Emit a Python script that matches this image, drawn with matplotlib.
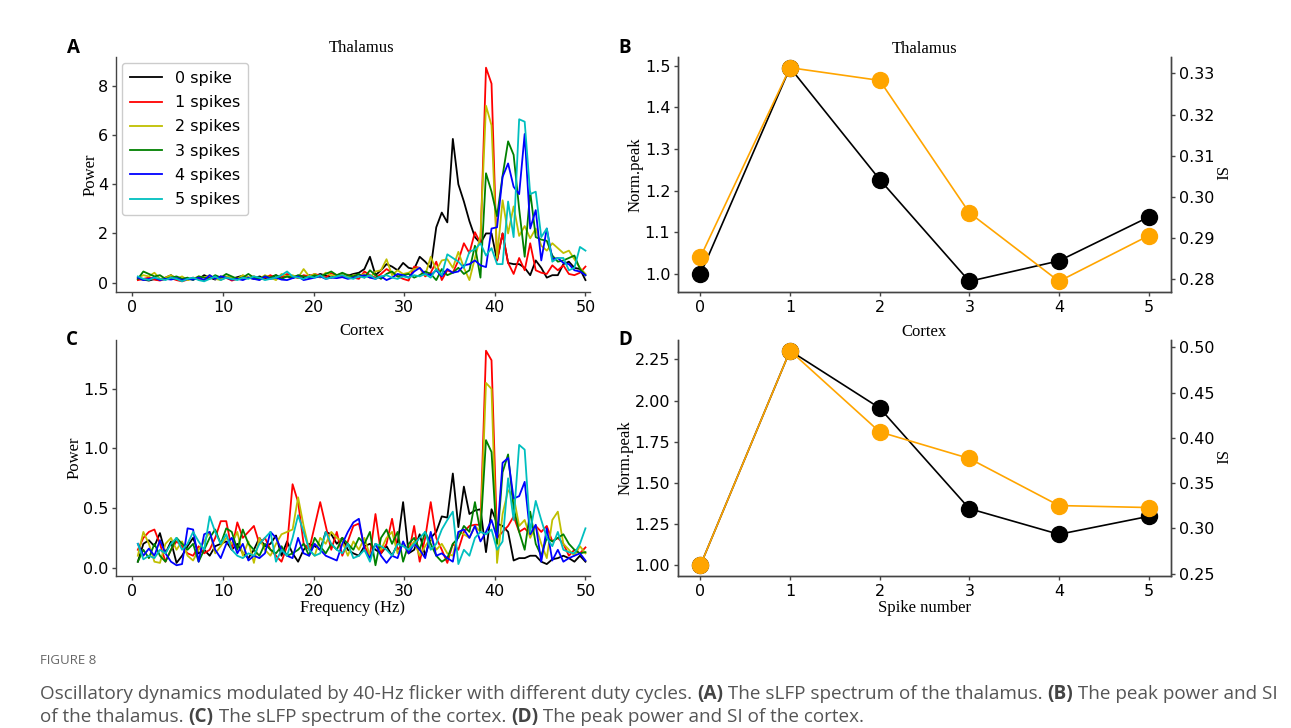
import numpy as np
import matplotlib
matplotlib.use("Agg")
import matplotlib.pyplot as plt

# ---- data ---------------------------------------------------------------
# spectrum frequency grid: 82 bins from ~0.61 Hz to 50 Hz
FREQ = np.arange(1, 83) * (50 / 82)

SPIKE_LABELS = ["0 spike", "1 spikes", "2 spikes", "3 spikes", "4 spikes", "5 spikes"]
SPIKE_COLORS = ["k", "r", "y", "g", "b", "c"]

# thalamus sLFP power per spike condition
TH_0 = [0.15, 0.12, 0.08, 0.14, 0.10, 0.20, 0.30, 0.15, 0.10, 0.12,
        0.18, 0.14, 0.30, 0.20, 0.12, 0.25, 0.18, 0.15, 0.22, 0.28,
        0.20, 0.15, 0.25, 0.18, 0.22, 0.30, 0.20, 0.25, 0.18, 0.28,
        0.22, 0.30, 0.25, 0.35, 0.28, 0.20, 0.30, 0.35, 0.28, 0.35,
        0.40, 0.55, 1.05, 0.30, 0.50, 0.75, 0.65, 0.50, 0.80, 0.60,
        0.55, 1.05, 0.85, 0.60, 2.25, 2.85, 2.45, 5.85, 4.00, 3.30,
        2.50, 1.85, 1.60, 2.00, 2.00, 0.90, 2.00, 0.80, 0.75, 0.75,
        0.60, 0.30, 0.90, 0.60, 0.20, 0.30, 0.30, 0.75, 0.85, 0.60,
        0.55, 0.10]
TH_1 = [0.10, 0.15, 0.20, 0.12, 0.08, 0.15, 0.18, 0.10, 0.05, 0.12,
        0.20, 0.15, 0.10, 0.18, 0.25, 0.12, 0.20, 0.08, 0.15, 0.22,
        0.18, 0.25, 0.12, 0.20, 0.30, 0.15, 0.22, 0.35, 0.25, 0.18,
        0.30, 0.25, 0.35, 0.28, 0.20, 0.38, 0.30, 0.25, 0.32, 0.20,
        0.15, 0.45, 0.30, 0.20, 0.35, 0.55, 0.40, 0.25, 0.15, 0.08,
        0.65, 0.60, 0.25, 0.40, 0.85, 0.10, 0.50, 0.40, 0.90, 1.60,
        1.20, 2.05, 1.60, 8.75, 8.10, 0.90, 2.00, 0.80, 0.35, 1.00,
        0.50, 1.60, 0.50, 0.40, 0.35, 0.70, 0.50, 0.70, 0.35, 0.30,
        0.40, 0.65]
TH_2 = [0.20, 0.30, 0.25, 0.40, 0.15, 0.20, 0.30, 0.15, 0.25, 0.10,
        0.15, 0.25, 0.20, 0.30, 0.15, 0.10, 0.25, 0.20, 0.15, 0.30,
        0.20, 0.25, 0.15, 0.30, 0.20, 0.10, 0.35, 0.25, 0.30, 0.20,
        0.55, 0.25, 0.35, 0.20, 0.40, 0.30, 0.25, 0.35, 0.20, 0.30,
        0.25, 0.35, 0.20, 0.45, 0.50, 0.95, 0.30, 0.50, 0.35, 0.40,
        0.55, 0.60, 0.30, 1.05, 0.50, 0.90, 0.95, 0.60, 1.25, 0.60,
        0.10, 1.00, 1.90, 7.20, 6.40, 1.00, 3.35, 2.00, 3.10, 1.90,
        2.30, 1.80, 2.20, 1.50, 1.30, 1.60, 1.40, 1.20, 1.30, 0.95,
        0.60, 0.35]
TH_3 = [0.15, 0.45, 0.35, 0.25, 0.30, 0.15, 0.20, 0.25, 0.15, 0.20,
        0.10, 0.25, 0.20, 0.15, 0.30, 0.20, 0.35, 0.25, 0.15, 0.20,
        0.35, 0.20, 0.15, 0.25, 0.20, 0.30, 0.15, 0.25, 0.20, 0.30,
        0.25, 0.20, 0.30, 0.25, 0.35, 0.45, 0.30, 0.40, 0.30, 0.25,
        0.35, 0.20, 0.50, 0.30, 0.15, 0.35, 0.45, 0.25, 0.30, 0.35,
        0.20, 0.30, 0.45, 0.35, 0.10, 0.55, 0.30, 0.40, 0.60, 0.35,
        0.50, 1.50, 0.20, 4.45, 3.70, 2.70, 4.35, 5.75, 5.20, 3.00,
        1.05, 3.70, 1.85, 1.75, 1.70, 1.10, 0.85, 0.90, 1.00, 1.10,
        0.55, 0.30]
TH_4 = [0.20, 0.10, 0.15, 0.20, 0.10, 0.15, 0.12, 0.18, 0.10, 0.15,
        0.12, 0.20, 0.10, 0.30, 0.15, 0.25, 0.20, 0.12, 0.15, 0.10,
        0.20, 0.15, 0.10, 0.25, 0.15, 0.20, 0.12, 0.10, 0.18, 0.25,
        0.10, 0.15, 0.20, 0.25, 0.15, 0.20, 0.18, 0.22, 0.15, 0.20,
        0.25, 0.30, 0.20, 0.15, 0.25, 0.10, 0.20, 0.35, 0.30, 0.20,
        0.45, 0.60, 0.35, 0.30, 0.50, 0.25, 0.55, 0.40, 0.45, 0.70,
        0.75, 0.90, 0.70, 0.63, 2.20, 2.25, 4.30, 4.85, 3.90, 3.60,
        6.05, 2.20, 2.95, 0.90, 2.20, 0.95, 1.00, 0.80, 0.75, 0.50,
        0.45, 0.30]
TH_5 = [0.25, 0.15, 0.10, 0.20, 0.15, 0.10, 0.20, 0.15, 0.05, 0.15,
        0.20, 0.10, 0.05, 0.15, 0.25, 0.10, 0.20, 0.15, 0.10, 0.20,
        0.15, 0.25, 0.20, 0.10, 0.15, 0.20, 0.30, 0.45, 0.25, 0.20,
        0.15, 0.25, 0.20, 0.30, 0.15, 0.20, 0.25, 0.30, 0.20, 0.15,
        0.25, 0.20, 0.30, 0.15, 0.25, 0.30, 0.20, 0.15, 0.25, 0.20,
        0.30, 0.25, 0.35, 0.20, 0.55, 0.30, 1.15, 1.00, 0.85, 0.60,
        1.25, 1.35, 1.60, 1.10, 1.40, 0.75, 0.75, 3.30, 1.85, 6.65,
        6.55, 3.60, 3.70, 1.85, 2.20, 0.85, 1.00, 1.00, 0.50, 0.60,
        1.45, 1.30]

# cortex sLFP power per spike condition
CX_0 = [0.05, 0.20, 0.23, 0.18, 0.29, 0.12, 0.22, 0.04, 0.10, 0.18,
        0.25, 0.12, 0.15, 0.10, 0.18, 0.20, 0.22, 0.15, 0.20, 0.12,
        0.08, 0.15, 0.25, 0.18, 0.20, 0.27, 0.10, 0.22, 0.12, 0.05,
        0.15, 0.20, 0.18, 0.15, 0.30, 0.28, 0.20, 0.25, 0.15, 0.12,
        0.10, 0.18, 0.20, 0.15, 0.12, 0.18, 0.10, 0.20, 0.55, 0.12,
        0.15, 0.28, 0.10, 0.25, 0.30, 0.43, 0.42, 0.79, 0.34, 0.68,
        0.45, 0.48, 0.49, 0.13, 0.49, 0.37, 0.35, 0.30, 0.06, 0.08,
        0.08, 0.10, 0.10, 0.05, 0.03, 0.07, 0.08, 0.10, 0.08, 0.05,
        0.10, 0.05]
CX_1 = [0.15, 0.25, 0.30, 0.32, 0.20, 0.05, 0.15, 0.22, 0.18, 0.12,
        0.10, 0.18, 0.12, 0.15, 0.25, 0.39, 0.39, 0.15, 0.38, 0.25,
        0.30, 0.35, 0.20, 0.25, 0.15, 0.10, 0.05, 0.18, 0.70, 0.55,
        0.20, 0.15, 0.35, 0.55, 0.35, 0.15, 0.30, 0.10, 0.22, 0.35,
        0.37, 0.18, 0.10, 0.45, 0.12, 0.20, 0.41, 0.15, 0.20, 0.12,
        0.35, 0.05, 0.25, 0.55, 0.25, 0.15, 0.04, 0.20, 0.15, 0.30,
        0.35, 0.36, 0.36, 1.82, 1.74, 0.25, 0.30, 0.35, 0.43, 0.30,
        0.33, 0.28, 0.35, 0.30, 0.35, 0.22, 0.25, 0.20, 0.10, 0.15,
        0.12, 0.17]
CX_2 = [0.10, 0.30, 0.20, 0.05, 0.04, 0.20, 0.25, 0.15, 0.22, 0.10,
        0.06, 0.15, 0.22, 0.30, 0.12, 0.18, 0.25, 0.20, 0.30, 0.10,
        0.22, 0.04, 0.25, 0.15, 0.10, 0.20, 0.28, 0.30, 0.32, 0.59,
        0.35, 0.15, 0.10, 0.25, 0.20, 0.30, 0.25, 0.22, 0.10, 0.22,
        0.15, 0.25, 0.10, 0.20, 0.15, 0.25, 0.30, 0.12, 0.20, 0.15,
        0.22, 0.10, 0.18, 0.25, 0.15, 0.20, 0.12, 0.10, 0.30, 0.28,
        0.25, 0.35, 0.30, 1.55, 1.50, 0.04, 0.45, 0.65, 0.60, 0.35,
        0.40, 0.25, 0.35, 0.20, 0.08, 0.40, 0.47, 0.20, 0.15, 0.10,
        0.18, 0.12]
CX_3 = [0.05, 0.15, 0.08, 0.20, 0.10, 0.05, 0.15, 0.25, 0.20, 0.15,
        0.20, 0.05, 0.15, 0.25, 0.32, 0.20, 0.33, 0.30, 0.15, 0.32,
        0.20, 0.15, 0.10, 0.20, 0.15, 0.12, 0.18, 0.10, 0.12, 0.15,
        0.20, 0.10, 0.25, 0.18, 0.12, 0.20, 0.15, 0.25, 0.20, 0.15,
        0.25, 0.20, 0.30, 0.02, 0.25, 0.32, 0.20, 0.30, 0.05, 0.20,
        0.25, 0.15, 0.30, 0.20, 0.10, 0.05, 0.08, 0.20, 0.25, 0.35,
        0.30, 0.55, 0.30, 1.07, 0.97, 0.20, 0.80, 0.95, 0.50, 0.30,
        0.15, 0.47, 0.20, 0.10, 0.25, 0.22, 0.25, 0.28, 0.20, 0.15,
        0.12, 0.13]
CX_4 = [0.20, 0.10, 0.16, 0.10, 0.23, 0.12, 0.05, 0.02, 0.03, 0.33,
        0.32, 0.05, 0.28, 0.30, 0.15, 0.08, 0.20, 0.25, 0.12, 0.20,
        0.06, 0.10, 0.08, 0.12, 0.30, 0.25, 0.15, 0.10, 0.08, 0.25,
        0.12, 0.10, 0.20, 0.15, 0.10, 0.08, 0.06, 0.20, 0.30, 0.38,
        0.41, 0.15, 0.08, 0.20, 0.10, 0.04, 0.10, 0.08, 0.22, 0.12,
        0.20, 0.15, 0.08, 0.30, 0.10, 0.12, 0.08, 0.05, 0.30, 0.32,
        0.25, 0.35, 0.22, 0.30, 0.40, 0.25, 0.88, 0.92, 0.58, 0.60,
        0.72, 0.28, 0.36, 0.05, 0.33, 0.06, 0.15, 0.05, 0.08, 0.10,
        0.12, 0.06]
CX_5 = [0.20, 0.07, 0.10, 0.08, 0.15, 0.12, 0.20, 0.25, 0.15, 0.20,
        0.30, 0.22, 0.15, 0.43, 0.30, 0.20, 0.28, 0.15, 0.10, 0.08,
        0.12, 0.10, 0.20, 0.25, 0.30, 0.05, 0.15, 0.10, 0.25, 0.44,
        0.30, 0.15, 0.10, 0.12, 0.30, 0.20, 0.15, 0.12, 0.20, 0.08,
        0.10, 0.15, 0.05, 0.20, 0.18, 0.15, 0.10, 0.20, 0.18, 0.15,
        0.20, 0.25, 0.30, 0.15, 0.20, 0.32, 0.40, 0.47, 0.03, 0.15,
        0.10, 0.25, 0.30, 0.28, 0.32, 0.15, 0.22, 0.75, 0.40, 1.03,
        0.99, 0.30, 0.56, 0.40, 0.25, 0.18, 0.30, 0.15, 0.13, 0.12,
        0.20, 0.33]

# peak power (normalised) and SI against spike number
SPIKE_NUM = [0, 1, 2, 3, 4, 5]
TH_PEAK = [1.000, 1.495, 1.227, 0.983, 1.032, 1.137]
TH_SI = [0.2853, 0.3314, 0.3283, 0.2961, 0.2794, 0.2905]
CX_PEAK = [1.000, 2.303, 1.955, 1.344, 1.188, 1.297]
CX_SI = [0.2592, 0.4963, 0.4066, 0.3772, 0.3252, 0.3230]

CAPTION_1 = [("Oscillatory dynamics modulated by 40-Hz flicker with different duty cycles. ", False),
             ("(A)", True), (" The sLFP spectrum of the thalamus. ", False),
             ("(B)", True), (" The peak power and SI", False)]
CAPTION_2 = [("of the thalamus. ", False), ("(C)", True),
             (" The sLFP spectrum of the cortex. ", False), ("(D)", True),
             (" The peak power and SI of the cortex.", False)]

# ---- style --------------------------------------------------------------
W, H = 1291, 728
SERIF = "Liberation Serif"
SPINE = "#444444"
TICK_FS = 11.5
LABEL_FS = 12
plt.rcParams["font.family"] = "DejaVu Sans"


def px_rect(left, top, right, bottom):
    return [left / W, 1 - bottom / H, (right - left) / W, (bottom - top) / H]


def style_axes(ax, right=False):
    ax.spines["top"].set_visible(False)
    if not right:
        ax.spines["right"].set_visible(False)
    for s in ax.spines.values():
        s.set_color(SPINE)
        s.set_linewidth(1.0)
    ax.tick_params(labelsize=TICK_FS, color=SPINE, length=3, width=1.0, pad=2.5)


def spectrum_panel(ax, series, title, legend=False, xlabel=None):
    for vals, col, lab in zip(series, SPIKE_COLORS, SPIKE_LABELS):
        ax.plot(FREQ, vals, color=col, lw=1.3, label=lab)
    ax.set_xlim(-1.8, 50.5)
    ax.set_xticks([0, 10, 20, 30, 40, 50])
    ax.set_ylabel("Power", family=SERIF, fontsize=LABEL_FS, labelpad=0)
    ax.text(0.519, 1.006, title, transform=ax.transAxes, ha="center", va="bottom",
            family=SERIF, fontsize=LABEL_FS)
    if xlabel:
        ax.set_xlabel(xlabel, family=SERIF, fontsize=LABEL_FS, labelpad=1)
    style_axes(ax)
    if legend:
        ax.legend(loc="upper left", bbox_to_anchor=(0.013, 0.975), borderaxespad=0,
                  fontsize=11.5, handlelength=2.0, handletextpad=0.8,
                  labelspacing=0.58, borderpad=0.5, framealpha=1.0)


def peak_panel(ax, peak, si, title, xlabel=None):
    ax.plot(SPIKE_NUM, peak, color="k", lw=1.2, marker="o", ms=11.5)
    ax.set_ylabel("Norm.peak", family=SERIF, fontsize=LABEL_FS, labelpad=1)
    ax.set_xticks(SPIKE_NUM)
    ax.set_xlim(-0.25, 5.25)
    ax.set_title(title, family=SERIF, fontsize=LABEL_FS, pad=3)
    if xlabel:
        ax.set_xlabel(xlabel, family=SERIF, fontsize=LABEL_FS, labelpad=1)
    style_axes(ax, right=True)
    ax2 = ax.twinx()
    ax2.plot(SPIKE_NUM, si, color="orange", lw=1.2, marker="o", ms=11.5)
    ax2.set_ylabel("SI", family=SERIF, fontsize=LABEL_FS, rotation=270, labelpad=9)
    style_axes(ax2, right=True)
    return ax2


fig = plt.figure(figsize=(W / 100, H / 100), dpi=100)

ax_a = fig.add_axes(px_rect(116, 57, 590, 292))
ax_b = fig.add_axes(px_rect(678, 57, 1171, 292))
ax_c = fig.add_axes(px_rect(116, 340, 590, 576))
ax_d = fig.add_axes(px_rect(678, 340, 1171, 576))

spectrum_panel(ax_a, [TH_0, TH_1, TH_2, TH_3, TH_4, TH_5], "Thalamus", legend=True)
spectrum_panel(ax_c, [CX_0, CX_1, CX_2, CX_3, CX_4, CX_5], "Cortex",
               xlabel="Frequency (Hz)")
peak_panel(ax_b, TH_PEAK, TH_SI, "Thalamus")
peak_panel(ax_d, CX_PEAK, CX_SI, "Cortex", xlabel="Spike number")

for letter, (x, y) in zip("ABCD", [(67, 48), (618, 48), (66, 340), (618, 340)]):
    fig.text(x / W, 1 - y / H, letter, fontsize=13.5, fontweight="bold",
             family="Open Sans", ha="left", va="center")

# ---- caption ------------------------------------------------------------
CAP_COLOR = "#555555"
fig.text(40 / W, 1 - 660 / H, "FIGURE 8", fontsize=9.5, family="Open Sans",
         color="#666666", va="center", ha="left")

renderer = fig.canvas.get_renderer()


def caption_line(parts, y_px, size=13.6):
    x = 40 / W
    for txt, bold in parts:
        t = fig.text(x, 1 - y_px / H, txt, fontsize=size, family="Open Sans",
                     fontweight="bold" if bold else "normal",
                     color="#444444" if bold else CAP_COLOR,
                     va="baseline", ha="left")
        x += t.get_window_extent(renderer).width / W


caption_line(CAPTION_1, 699)
caption_line(CAPTION_2, 722)

fig.savefig("out.png", dpi=100)
